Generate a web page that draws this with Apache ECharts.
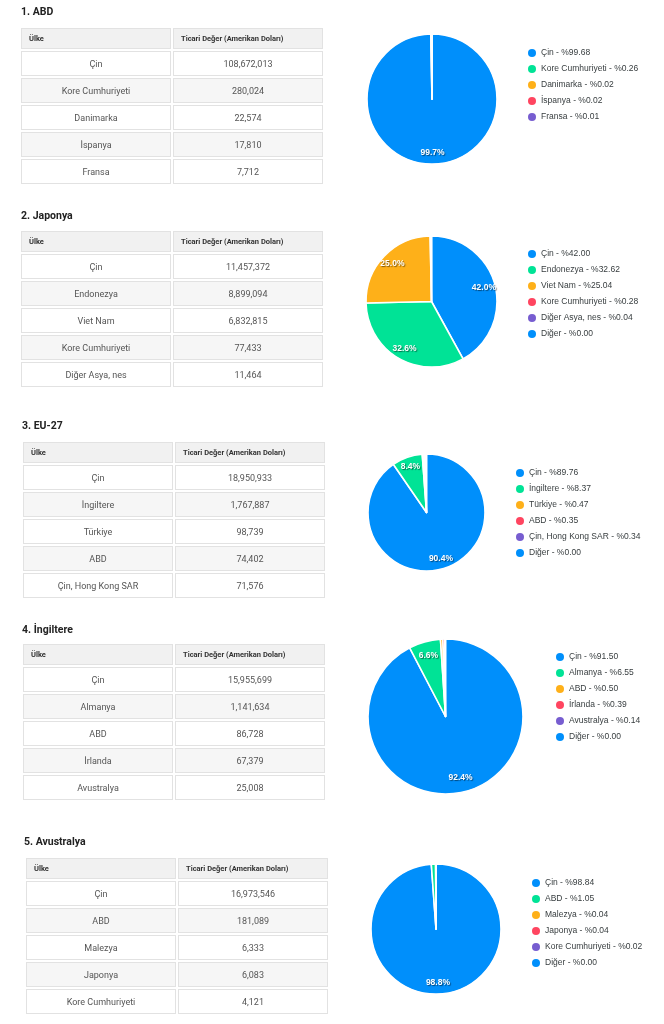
<!DOCTYPE html>
<html>
<head>
<meta charset="utf-8">
<script src="https://cdn.jsdelivr.net/npm/echarts@6/dist/echarts.min.js"></script>
<style>
  html, body { margin: 0; padding: 0; background: #fff; }
  #page { position: relative; width: 664px; height: 1024px; overflow: hidden; }
  #chart { position: absolute; left: 0; top: 0; width: 664px; height: 1024px; }
  .title { position: absolute; font-family: Roboto, sans-serif; font-weight: bold; font-size: 10.5px; line-height: 14px; color: #222; white-space: nowrap; }
  table.t { position: absolute; border-collapse: separate; border-spacing: 2px; font-family: Roboto, sans-serif; table-layout: fixed; }
  table.t td, table.t th { border: 1px solid #e2e2e2; box-sizing: border-box; padding: 0; }
  table.t th { background: #f1f1f1; height: 21px; font-size: 7.5px; font-weight: bold; color: #333; text-align: left; padding-left: 7px; }
  table.t td { height: 25px; font-size: 9px; color: #555; text-align: center; }
  table.t tr.alt td { background: #f6f6f6; }
</style>
</head>
<body>
<div id="page">
  <div id="chart"></div>
</div>
<script>
// ---- data ----
const titles = ['1. ABD', '2. Japonya', '3. EU-27', '4. İngiltere', '5. Avustralya'];
const headerLabels = ['Ülke', 'Ticari Değer (Amerikan Doları)'];
const otherLabel = 'Diğer';

const abdCountries = ['Çin', 'Kore Cumhuriyeti', 'Danimarka', 'İspanya', 'Fransa'];
const abdValues = [108672013, 280024, 22574, 17810, 7712];
const abdLegendPct = ['99.68', '0.26', '0.02', '0.02', '0.01'];

const japonyaCountries = ['Çin', 'Endonezya', 'Viet Nam', 'Kore Cumhuriyeti', 'Diğer Asya, nes'];
const japonyaValues = [11457372, 8899094, 6832815, 77433, 11464];
const japonyaLegendPct = ['42.00', '32.62', '25.04', '0.28', '0.04'];

const euCountries = ['Çin', 'İngiltere', 'Türkiye', 'ABD', 'Çin, Hong Kong SAR'];
const euValues = [18950933, 1767887, 98739, 74402, 71576];
const euLegendPct = ['89.76', '8.37', '0.47', '0.35', '0.34'];

const ingiltereCountries = ['Çin', 'Almanya', 'ABD', 'İrlanda', 'Avustralya'];
const ingiltereValues = [15955699, 1141634, 86728, 67379, 25008];
const ingiltereLegendPct = ['91.50', '6.55', '0.50', '0.39', '0.14'];

const avustralyaCountries = ['Çin', 'ABD', 'Malezya', 'Japonya', 'Kore Cumhuriyeti'];
const avustralyaValues = [16973546, 181089, 6333, 6083, 4121];
const avustralyaLegendPct = ['98.84', '1.05', '0.04', '0.04', '0.02'];

// "Diğer" legend entry (value 0) shown for sections 2-5
const otherValue = 0;
const otherPct = '0.00';

const sections = [
  { countries: abdCountries, values: abdValues, pct: abdLegendPct, other: false },
  { countries: japonyaCountries, values: japonyaValues, pct: japonyaLegendPct, other: true },
  { countries: euCountries, values: euValues, pct: euLegendPct, other: true },
  { countries: ingiltereCountries, values: ingiltereValues, pct: ingiltereLegendPct, other: true },
  { countries: avustralyaCountries, values: avustralyaValues, pct: avustralyaLegendPct, other: true }
];

// ---- layout (positions / sizes) ----
const layout = [
  { tx: 21, ty: 5,   tabX: 21, tabY: 28,  cx: 432,   cy: 99,    r: 65,   lx: 528, ly: 48 },
  { tx: 21, ty: 209, tabX: 21, tabY: 231, cx: 431.5, cy: 301.5, r: 65.5, lx: 528, ly: 249 },
  { tx: 22, ty: 419, tabX: 23, tabY: 442, cx: 426.5, cy: 512.5, r: 58.5, lx: 516, ly: 468 },
  { tx: 22, ty: 623, tabX: 23, tabY: 644, cx: 445.5, cy: 716.5, r: 77.5, lx: 556, ly: 652 },
  { tx: 24, ty: 835, tabX: 26, tabY: 858, cx: 436,   cy: 929,   r: 65,   lx: 532, ly: 878 }
];
const palette = ['#008FFB', '#00E396', '#FEB019', '#FF4560', '#775DD0', '#008FFB'];

// ---- build tables ----
const page = document.getElementById('page');
const fmt = v => v.toLocaleString('en-US');
sections.forEach((s, i) => {
  const L = layout[i];
  const t = document.createElement('div');
  t.className = 'title';
  t.style.left = L.tx + 'px';
  t.style.top = L.ty + 'px';
  t.textContent = titles[i];
  page.appendChild(t);

  const tab = document.createElement('table');
  tab.className = 't';
  tab.style.left = (L.tabX - 2) + 'px';
  tab.style.top = (L.tabY - 2) + 'px';
  tab.style.width = (302 + 4) + 'px';
  let html = '<colgroup><col style="width:150px"><col style="width:150px"></colgroup>';
  html += '<tr><th>' + headerLabels[0] + '</th><th>' + headerLabels[1] + '</th></tr>';
  s.countries.forEach((c, k) => {
    html += '<tr class="' + (k % 2 === 1 ? 'alt' : '') + '"><td>' + c + '</td><td>' + fmt(s.values[k]) + '</td></tr>';
  });
  tab.innerHTML = html;
  page.appendChild(tab);
});

// ---- build chart ----
const chart = echarts.init(document.getElementById('chart'), null, { renderer: 'canvas' });
const series = [];
const legends = [];
sections.forEach((s, i) => {
  const L = layout[i];
  const data = s.countries.map((c, k) => ({
    name: c + ' - %' + s.pct[k],
    value: s.values[k],
    itemStyle: { color: palette[k] }
  }));
  if (s.other) {
    data.push({ name: otherLabel + ' - %' + otherPct, value: otherValue, itemStyle: { color: palette[5], borderWidth: 0 } });
  }
  series.push({
    type: 'pie',
    center: [L.cx, L.cy],
    radius: [0, L.r],
    startAngle: 90,
    clockwise: true,
    avoidLabelOverlap: false,
    percentPrecision: 4,
    label: { show: false },
    labelLine: { show: false },
    itemStyle: { borderColor: '#fff', borderWidth: 1.6 },
    emphasis: { disabled: true },
    silent: true,
    animation: false,
    data: data
  });
  series.push({
    type: 'pie',
    center: [L.cx, L.cy],
    radius: [L.r * 0.56, L.r],
    startAngle: 90,
    clockwise: true,
    avoidLabelOverlap: false,
    percentPrecision: 4,
    silent: true,
    animation: false,
    emphasis: { disabled: true },
    itemStyle: { color: 'rgba(0,0,0,0)', borderWidth: 0 },
    labelLine: { show: false },
    label: {
      show: true,
      position: 'inside',
      color: '#fff',
      fontFamily: 'Liberation Sans, Arial, sans-serif',
      fontWeight: 'bold',
      fontSize: 8.5,
      textShadowColor: 'rgba(0,0,0,0.5)',
      textShadowBlur: 1,
      textShadowOffsetX: 1,
      textShadowOffsetY: 1,
      formatter: p => (p.percent >= 3 ? p.percent.toFixed(1) + '%' : '')
    },
    data: data.map(d => ({ name: d.name, value: d.value }))
  });
  legends.push({
    orient: 'vertical',
    left: L.lx,
    top: L.ly,
    padding: 0,
    icon: 'circle',
    itemWidth: 8,
    itemHeight: 8,
    itemGap: 6,
    itemTextGap: 3,
    selectedMode: false,
    itemStyle: { borderWidth: 0 },
    textStyle: { fontSize: 8.5, lineHeight: 10, color: '#373d3f', fontFamily: 'Liberation Sans, Arial, sans-serif' },
    data: data.map(d => d.name)
  });
});

chart.setOption({
  animation: false,
  backgroundColor: 'rgba(0,0,0,0)',
  legend: legends,
  series: series
});
</script>
</body>
</html>
